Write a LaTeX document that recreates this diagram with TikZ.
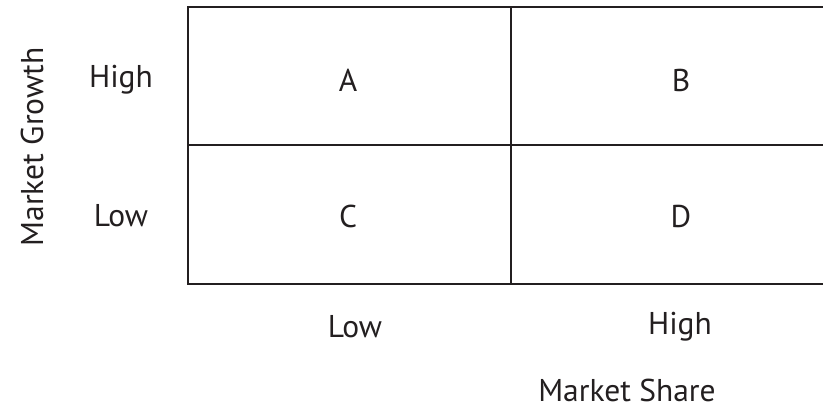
\documentclass[tikz,border=0pt]{standalone}
\usepackage{fontspec}
\setmainfont{PT Sans}
\usepackage{xcolor}
\usepackage{tikz}
\usetikzlibrary{positioning, calc}

\definecolor{inkgray}{HTML}{231F20}

\begin{document}
\begin{tikzpicture}[x=1pt, y=-1pt,
    gridline/.style={draw=inkgray, line width=2pt},
    lbl/.style={text=inkgray, font=\fontsize{31.5}{36}\selectfont, inner sep=0pt}]
\useasboundingbox (0,0) rectangle (823,408);

% matrix cells
\draw[gridline] (187.5,7) rectangle (835,283.5);
\draw[gridline] (187.5,145) -- (835,145);
\draw[gridline] (511,7) -- (511,283.5);

% cell letters
\node[lbl] (cellA) at (348,80) {A};
\node[lbl] (cellB) at (681,80) {B};
\node[lbl] (cellC) at (348,216) {C};
\node[lbl] (cellD) at (681,216) {D};

% growth axis
\node[lbl] (growHigh) at (121,80) {High};
\node[lbl] (growLow) at (121,216) {Low};
\node[lbl, rotate=90] (growth) at (32,147) {Market Growth};

% share axis
\node[lbl] (shareLow) at (355,327) {Low};
\node[lbl] (shareHigh) at (680,327) {High};
\node[lbl] (share) at (627,390) {Market Share};
\end{tikzpicture}
\end{document}
